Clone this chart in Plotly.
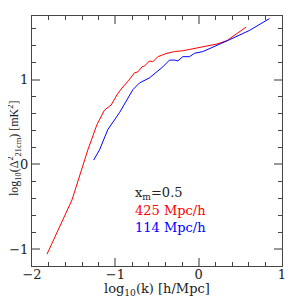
import plotly.graph_objects as go

red_x = [-1.82, -1.52, -1.33, -1.22, -1.13, -1.05, -0.98, -0.92, -0.84, -0.77, -0.73, -0.68, -0.65, -0.59,
         -0.55, -0.49, -0.38, -0.29, -0.19, 0.01, 0.22, 0.34, 0.46, 0.57]
red_y = [-1.06, -0.42, 0.17, 0.47, 0.64, 0.70, 0.82, 0.90, 0.99, 1.08, 1.09, 1.15, 1.16, 1.22,
         1.21, 1.27, 1.31, 1.33, 1.34, 1.38, 1.42, 1.46, 1.54, 1.62]

blue_x = [-1.26, -1.19, -1.09, -0.95, -0.79, -0.71, -0.59, -0.43, -0.35, -0.29, -0.25, -0.19, -0.11,
          -0.05, 0.05, 0.17, 0.25, 0.37, 0.61, 0.85]
blue_y = [0.05, 0.17, 0.41, 0.61, 0.88, 0.96, 1.02, 1.15, 1.23, 1.23, 1.22, 1.27, 1.27,
          1.31, 1.33, 1.38, 1.42, 1.47, 1.58, 1.72]

legend_texts = ["x<sub>m</sub>=0.5", "425 Mpc/h", "114 Mpc/h"]
legend_colors = ["#222", "red", "blue"]
legend_y = [-0.34, -0.54, -0.74]

x_ticks = [-2, -1, 0, 1]
y_ticks = [-1, 0, 1]
x_range = [-2, 1]
y_range = [-1.2, 1.75]

x_title = "log<sub>10</sub>(k) [h/Mpc]"
y_title = "log<sub>10</sub>(\u0394<sup>2</sup><sub>21cm</sub>) [mK<sup>2</sup>]"

font = "DejaVu Serif"

fig = go.Figure()
fig.add_trace(go.Scatter(x=red_x, y=red_y, mode="lines", line=dict(color="red", width=1), showlegend=False))
fig.add_trace(go.Scatter(x=blue_x, y=blue_y, mode="lines", line=dict(color="blue", width=1), showlegend=False))
# invisible trace to activate mirrored tick axes (top/right)
fig.add_trace(go.Scatter(x=blue_x, y=blue_y, mode="lines", line=dict(color="rgba(0,0,0,0)", width=0),
                         xaxis="x2", yaxis="y2", showlegend=False, hoverinfo="skip"))

for t, c, yv in zip(legend_texts, legend_colors, legend_y):
    fig.add_annotation(x=-0.79, y=yv, text=t, showarrow=False, xanchor="left", yanchor="middle",
                       font=dict(family=font, size=13, color=c))

# axis titles
fig.add_annotation(xref="paper", yref="paper", x=0.5, y=0, yshift=-23, xanchor="center", yanchor="middle",
                   text=x_title, showarrow=False, font=dict(family=font, size=13, color="#222"))
fig.add_annotation(xref="paper", yref="paper", x=0, y=0.5, xshift=-18, yshift=-8, xanchor="center",
                   yanchor="middle", textangle=-90, text=y_title, showarrow=False, borderpad=0,
                   font=dict(family="Liberation Serif", size=12, color="#222"))

major = dict(ticks="inside", ticklen=8, tickwidth=2, tickcolor="#999")
minor = dict(minor=dict(ticks="inside", ticklen=4, tickwidth=1, tickcolor="#444", dtick=0.2))
tickfont = dict(family=font, size=13, color="#222")

fig.update_layout(
    width=290, height=290, margin=dict(l=24, r=16, t=8, b=32),
    plot_bgcolor="white", paper_bgcolor="white",
    xaxis=dict(range=x_range, tickvals=x_ticks, ticktext=["\u22122", "\u22121", "0", "1"],
               showgrid=False, zeroline=False, showline=True, linecolor="#444", linewidth=1, mirror=True,
               automargin=False, tickfont=tickfont, ticklabelstandoff=-4,
               **major, **minor),
    yaxis=dict(range=y_range, tickvals=y_ticks, ticktext=["\u22121", "0", "1"],
               showgrid=False, zeroline=False, showline=True, linecolor="#444", linewidth=1, mirror=True,
               automargin=False, tickfont=tickfont,
               **major, **minor),
    xaxis2=dict(range=x_range, overlaying="x", side="top", matches="x", tickvals=x_ticks,
                showticklabels=False, showgrid=False, zeroline=False, showline=False, automargin=False,
                **major, **minor),
    yaxis2=dict(range=y_range, overlaying="y", side="right", matches="y", tickvals=y_ticks,
                showticklabels=False, showgrid=False, zeroline=False, showline=False, automargin=False,
                **major, **minor),
)

fig.write_html("out.html")
